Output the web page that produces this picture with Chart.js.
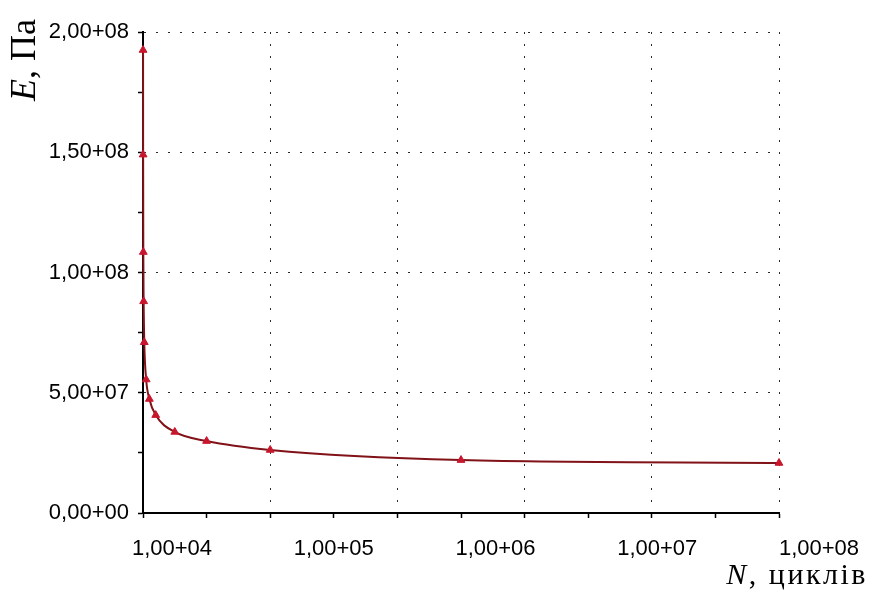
<!DOCTYPE html>
<html>
<head>
<meta charset="utf-8">
<script src="https://cdn.jsdelivr.net/npm/chart.js@4.4.1/dist/chart.umd.min.js"></script>
<style>
    body { margin: 0; background: #fff; }
    #wrap { position: relative; width: 870px; height: 599px; }
    .axis-title { position: absolute; font-family: 'Liberation Serif', 'Times New Roman', serif; color: #000; white-space: nowrap; line-height: 1; }
    #yTitle { left: 5px; top: 101px; font-size: 36px; transform: rotate(-90deg); transform-origin: left top; }
    #xTitle { right: 2px; top: 559px; font-size: 30px; letter-spacing: 2.5px; }
</style>
</head>
<body>
<div id="wrap">
    <canvas id="fatigueChart" width="870" height="599"></canvas>
    <div id="yTitle" class="axis-title"><i>E</i>, Па</div>
    <div id="xTitle" class="axis-title"><i>N</i>, циклів</div>
</div>
<script>
// number of cycles and modulus
const nCycles = [1e4, 2e4, 5e4, 1e5, 2e5, 5e5, 1e6, 2e6, 5e6, 1e7, 2e7, 5e7, 1e8];
const modulusPa = [1.925e8, 1.49e8, 1.085e8, 8.8e7, 7.1e7, 5.55e7, 4.74e7, 4.07e7, 3.37e7, 2.99e7, 2.62e7, 2.20e7, 2.08e7];

// labels printed under the x axis (decades of N)
const xLabelDecades = [1e4, 1e5, 1e6, 1e7, 1e8];

// "1,00+08" style numbers
function sciLabel(v) {
    if (v === 0) return '0,00+00';
    const e = Math.floor(Math.log10(v) + 1e-9);
    const m = v / Math.pow(10, e);
    return m.toFixed(2).replace('.', ',') + '+' + String(e).padStart(2, '0');
}

const labelFont = { family: "'Liberation Sans', Arial, sans-serif", size: 22 };
const dotGrid = (step) => (ctx) => (ctx.tick && ctx.tick.value > 0 && ctx.tick.value % step === 0) ? '#2a2a2a' : 'transparent';

new Chart(document.getElementById('fatigueChart'), {
    type: 'line',
    data: {
        datasets: [{
            data: nCycles.map((n, i) => ({ x: n, y: modulusPa[i] })),
            borderColor: 'rgb(128, 18, 24)',
            borderWidth: 2,
            cubicInterpolationMode: 'monotone',
            pointStyle: 'triangle',
            pointRadius: 4.5,
            pointBackgroundColor: 'rgb(200, 22, 45)',
            pointBorderColor: 'rgb(200, 22, 45)',
            pointBorderWidth: 1,
            clip: false
        }]
    },
    options: {
        responsive: false,
        animation: false,
        devicePixelRatio: 1,
        layout: { padding: { top: 32, right: 91, left: 0, bottom: 0 } },
        plugins: {
            legend: { display: false },
            tooltip: { enabled: false }
        },
        scales: {
            x: {
                type: 'linear',
                position: 'bottom',
                weight: 0,
                min: 0,
                max: 1e8,
                ticks: { stepSize: 1e7, display: false },
                grid: {
                    color: dotGrid(2e7),
                    lineWidth: 1,
                    tickColor: '#000',
                    tickLength: 5,
                    tickWidth: 1.5
                },
                border: { color: '#000', width: 2, dash: [2, 10] },
                afterFit: (s) => { s.height = 0; s.paddingLeft = 0; s.paddingRight = 0; }
            },
            xl: {
                type: 'logarithmic',
                position: 'bottom',
                weight: 1,
                min: Math.pow(10, 3.8207),
                max: Math.pow(10, 7.7527),
                afterBuildTicks: (s) => { s.ticks = xLabelDecades.map(v => ({ value: v })); },
                ticks: {
                    autoSkip: false,
                    maxRotation: 0,
                    padding: 23,
                    color: '#000',
                    font: labelFont,
                    callback: (v) => sciLabel(v)
                },
                grid: { display: false, drawTicks: false },
                border: { display: false },
                afterFit: (s) => { s.height = 86; s.paddingLeft = 0; s.paddingRight = 0; }
            },
            y: {
                type: 'linear',
                min: 0,
                max: 2e8,
                ticks: {
                    stepSize: 2.5e7,
                    padding: 9,
                    color: '#000',
                    font: labelFont,
                    callback: (v) => v % 5e7 === 0 ? sciLabel(v) : ''
                },
                grid: {
                    color: dotGrid(5e7),
                    lineWidth: 1,
                    tickColor: '#000',
                    tickLength: 5,
                    tickWidth: 1.5
                },
                border: { color: '#000', width: 2, dash: [2, 10] },
                afterFit: (s) => { s.width = 143; s.paddingTop = 0; s.paddingBottom = 0; }
            }
        }
    }
});
</script>
</body>
</html>
